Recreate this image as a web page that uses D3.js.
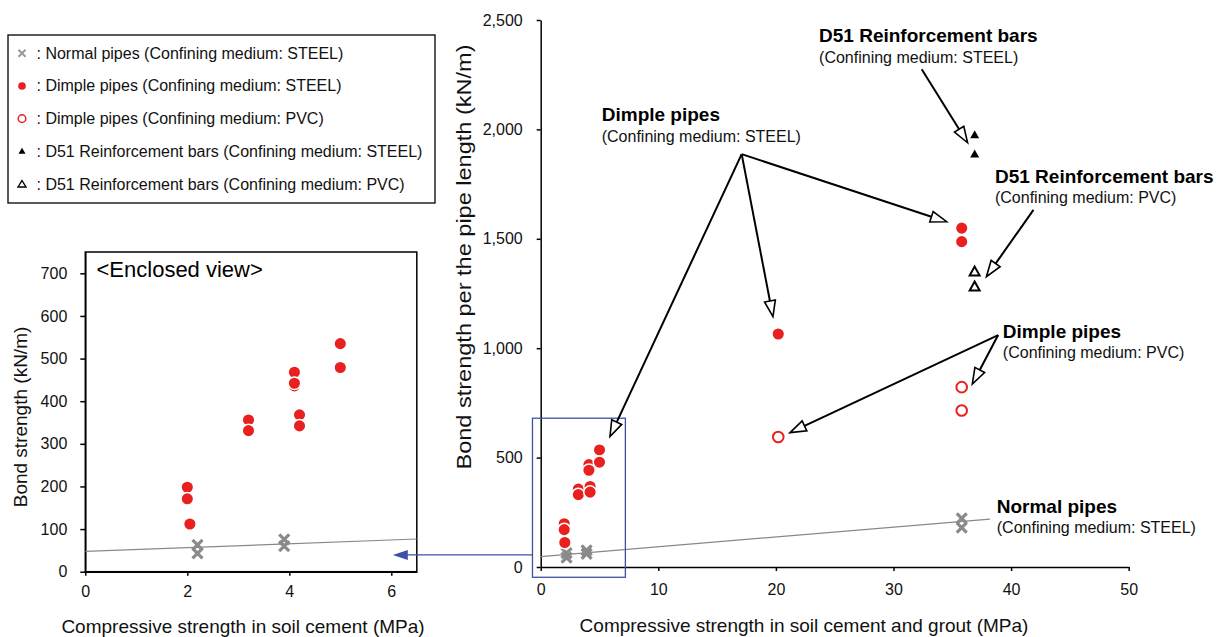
<!DOCTYPE html>
<html><head><meta charset="utf-8">
<script src="https://cdn.jsdelivr.net/npm/d3@7"></script>
<style>
body{margin:0;background:#fff;}
svg{display:block;font-family:"Liberation Sans",Arial,sans-serif;}
</style></head>
<body><svg id="c" width="1222" height="637"></svg>
<script>
// ---------- data ----------
const normalPipes = [[2.2,43],[2.2,63],[3.9,60],[3.9,76],[35.8,180],[35.8,222]];
const dimpleSteel = [[2.0,198],[2.0,171],[2.05,112],[3.2,356],[3.2,331],[4.1,468],[4.1,436],[4.1,442],[4.2,368],[4.2,342],[5.0,535],[5.0,479],[20.2,1065],[35.8,1549],[35.8,1487]];
const dimplePVC = [[20.2,594],[35.8,822],[35.8,715]];
const d51Steel = [[36.9,1975],[36.9,1888]];
const d51PVC = [[36.9,1350],[36.9,1282]];
const trendMain = [[0,47.5],[38.2,219]];
const trendInset = [[0,47.5],[6.5,76.7]];
const mainXTicks = [0,10,20,30,40,50];
const mainYTicks = [0,500,1000,1500,2000,2500];
const insetXTicks = [0,2,4,6];
const insetYTicks = [0,100,200,300,400,500,600,700];
const legendLabels = [
  ": Normal pipes (Confining medium: STEEL)",
  ": Dimple pipes (Confining medium: STEEL)",
  ": Dimple pipes (Confining medium: PVC)",
  ": D51 Reinforcement bars (Confining medium: STEEL)",
  ": D51 Reinforcement bars (Confining medium: PVC)"
];
const legendKinds = ["x","dot","ring","tri","otri"];
// annotations in main-chart data units
const annotations = [
  {title:"Dimple pipes", sub:"(Confining medium: STEEL)", at:[5.19,2038], from:[17.09,1887], to:[[34.52,1578],[19.75,1144],[5.89,596]]},
  {title:"D51 Reinforcement bars", sub:"(Confining medium: STEEL)", at:[23.67,2399], from:[32.4,2275], to:[[36.3,1939]]},
  {title:"D51 Reinforcement bars", sub:"(Confining medium: PVC)", at:[38.63,1757], from:[41.9,1632], to:[[37.9,1327]]},
  {title:"Dimple pipes", sub:"(Confining medium: PVC)", at:[39.3,1047], from:[38.9,1060], to:[[36.7,836],[21.2,614]]},
  {title:"Normal pipes", sub:"(Confining medium: STEEL)", at:[38.78,247], from:null, to:[]}
];
const zoomBox = {x0:-0.7, x1:7.2, y0:-47, y1:680};
const zoomLink = {y:55, insetX:6.03};

// ---------- setup ----------
const RED = "#e8201f", GREY = "#8a8a8a", BLUE = "#3d51a5";
const svg = d3.select("#c");
const xM = d3.scaleLinear().domain([0,50]).range([540.7,1128.7]);
const yM = d3.scaleLinear().domain([0,2500]).range([567,20]);
const xI = d3.scaleLinear().domain([0,6.5]).range([85.3,416.8]);
const yI = d3.scaleLinear().domain([0,750]).range([571.7,252]);

function drawMarks(g, xs, ys, scale){
  const s = scale || 1;
  g.selectAll(null).data(normalPipes).join("path")
    .attr("d", d => { const x=xs(d[0]), y=ys(d[1]), r=5*s; return `M${x-r},${y-r}L${x+r},${y+r}M${x-r},${y+r}L${x+r},${y-r}`; })
    .attr("stroke", GREY).attr("stroke-width", 3.2).attr("fill","none");
  g.selectAll(null).data(dimplePVC).join("circle")
    .attr("cx", d=>xs(d[0])).attr("cy", d=>ys(d[1])).attr("r", 5.3)
    .attr("fill","#fff").attr("stroke",RED).attr("stroke-width",2);
  g.selectAll(null).data(dimpleSteel).join("circle")
    .attr("cx", d=>xs(d[0])).attr("cy", d=>ys(d[1])).attr("r", 6.3)
    .attr("fill",RED).attr("stroke","#fff").attr("stroke-width",1.5);
  g.selectAll(null).data(d51Steel).join("path")
    .attr("d", d=>{const x=xs(d[0]), y=ys(d[1]); return `M${x},${y-4.5}L${x+4.5},${y+3.5}L${x-4.5},${y+3.5}Z`;})
    .attr("fill","#000");
  g.selectAll(null).data(d51PVC).join("path")
    .attr("d", d=>{const x=xs(d[0]), y=ys(d[1]); return `M${x},${y-5}L${x+5},${y+4}L${x-5},${y+4}Z`;})
    .attr("fill","#fff").attr("stroke","#000").attr("stroke-width",2).attr("stroke-linejoin","miter");
}

// ---------- main chart ----------
const gM = svg.append("g");
const axX = gM.append("g").attr("transform",`translate(0,${yM(0)})`)
  .call(d3.axisBottom(xM).tickValues(mainXTicks).tickSize(4).tickSizeOuter(0).tickPadding(12.6).tickFormat(d3.format("d")));
const axY = gM.append("g").attr("transform",`translate(${xM(0)},0)`)
  .call(d3.axisLeft(yM).tickValues(mainYTicks).tickSize(4).tickSizeOuter(0).tickPadding(14).tickFormat(d3.format(",")));
[axX,axY].forEach(a=>{a.selectAll("text").attr("font-size",16).attr("fill","#111").attr("font-family","Liberation Sans, Arial, sans-serif");
  a.selectAll("line,path").attr("stroke","#000").attr("stroke-width",1.5);});

gM.append("text").attr("x",804).attr("y",632).attr("text-anchor","middle").attr("font-size",19).attr("fill","#111")
  .text("Compressive strength in soil cement and grout (MPa)");
gM.append("text").attr("transform","translate(471,257) rotate(-90)").attr("text-anchor","middle").attr("font-size",19.5).attr("fill","#111")
  .attr("textLength",425).attr("lengthAdjust","spacingAndGlyphs")
  .text("Bond strength per the pipe length (kN/m)");

gM.append("path").attr("d", d3.line().x(d=>xM(d[0])).y(d=>yM(d[1]))(trendMain))
  .attr("stroke","#888").attr("stroke-width",1.2).attr("fill","none");
drawMarks(gM, xM, yM);

// zoom box
gM.append("rect").attr("x",xM(zoomBox.x0)).attr("y",yM(zoomBox.y1))
  .attr("width",xM(zoomBox.x1)-xM(zoomBox.x0)).attr("height",yM(zoomBox.y0)-yM(zoomBox.y1))
  .attr("fill","none").attr("stroke",BLUE).attr("stroke-width",1.3);

// annotations
function arrow(g, x1,y1,x2,y2){
  const L=16, hw=5.5, dx=x2-x1, dy=y2-y1, len=Math.hypot(dx,dy), ux=dx/len, uy=dy/len;
  const bx=x2-ux*L, by=y2-uy*L;
  g.append("line").attr("x1",x1).attr("y1",y1).attr("x2",bx).attr("y2",by).attr("stroke","#000").attr("stroke-width",2);
  g.append("path").attr("d",`M${x2},${y2}L${bx-uy*hw},${by+ux*hw}L${bx+uy*hw},${by-ux*hw}Z`)
    .attr("fill","#fff").attr("stroke","#000").attr("stroke-width",1.6).attr("stroke-linejoin","miter");
}
const gA = svg.append("g");
annotations.forEach(a=>{
  const x=xM(a.at[0]), y=yM(a.at[1]);
  gA.append("text").attr("x",x).attr("y",y).attr("font-size",19).attr("font-weight","bold").attr("fill","#000").text(a.title);
  gA.append("text").attr("x",x).attr("y",y+20.5).attr("font-size",16).attr("fill","#111").text(a.sub);
  if(a.from) a.to.forEach(t=>arrow(gA, xM(a.from[0]), yM(a.from[1]), xM(t[0]), yM(t[1])));
});

// ---------- inset ----------
const gI = svg.append("g");
svg.append("clipPath").attr("id","ic").append("rect")
  .attr("x",xI(0)).attr("y",yI(750)).attr("width",xI(6.5)-xI(0)).attr("height",yI(0)-yI(750));
const iaX = gI.append("g").attr("transform",`translate(0,${yI(0)})`)
  .call(d3.axisBottom(xI).tickValues(insetXTicks).tickSize(4).tickSizeOuter(0).tickPadding(10).tickFormat(d3.format("d")));
const iaY = gI.append("g").attr("transform",`translate(${xI(0)},0)`)
  .call(d3.axisLeft(yI).tickValues(insetYTicks).tickSize(5).tickSizeOuter(0).tickPadding(13).tickFormat(d3.format("d")));
[iaX,iaY].forEach(a=>{a.selectAll("text").attr("font-size",16).attr("fill","#111").attr("font-family","Liberation Sans, Arial, sans-serif");
  a.selectAll("line,path").attr("stroke","#000").attr("stroke-width",1.5);});
gI.append("rect").attr("x",xI(0)).attr("y",yI(750)).attr("width",xI(6.5)-xI(0)).attr("height",yI(0)-yI(750))
  .attr("fill","none").attr("stroke","#000").attr("stroke-width",1.5);
const gIc = gI.append("g").attr("clip-path","url(#ic)");
gIc.append("path").attr("d", d3.line().x(d=>xI(d[0])).y(d=>yI(d[1]))(trendInset))
  .attr("stroke","#888").attr("stroke-width",1.2).attr("fill","none");
drawMarks(gIc, xI, yI);
gI.append("text").attr("x",96.5).attr("y",277).attr("font-size",22).attr("fill","#000").text("<Enclosed view>");
gI.append("text").attr("x",243).attr("y",633).attr("text-anchor","middle").attr("font-size",19).attr("fill","#111")
  .text("Compressive strength in soil cement (MPa)");
gI.append("text").attr("transform","translate(27,417) rotate(-90)").attr("text-anchor","middle").attr("font-size",19).attr("fill","#111")
  .text("Bond strength (kN/m)");

// blue link arrow
const ly = yM(zoomLink.y), tipX = xI(zoomLink.insetX);
svg.append("line").attr("x1",xM(zoomBox.x0)).attr("y1",ly).attr("x2",tipX+14).attr("y2",ly).attr("stroke",BLUE).attr("stroke-width",1.3);
svg.append("path").attr("d",`M${tipX},${ly}L${tipX+15},${ly-5}L${tipX+15},${ly+5}Z`).attr("fill",BLUE);

// ---------- legend ----------
const gL = svg.append("g");
gL.append("rect").attr("x",8).attr("y",35).attr("width",427).attr("height",168).attr("fill","#fff").attr("stroke","#000").attr("stroke-width",1.3);
const rowY = d3.scalePoint().domain(d3.range(legendLabels.length)).range([53.3,184]);
legendLabels.forEach((t,i)=>{
  const y=rowY(i), x=22, k=legendKinds[i];
  if(k==="x") gL.append("path").attr("d",`M${x-3.5},${y-3.5}L${x+3.5},${y+3.5}M${x-3.5},${y+3.5}L${x+3.5},${y-3.5}`).attr("stroke","#999").attr("stroke-width",2);
  if(k==="dot") gL.append("circle").attr("cx",x).attr("cy",y).attr("r",3.8).attr("fill",RED);
  if(k==="ring") gL.append("circle").attr("cx",x).attr("cy",y).attr("r",3.8).attr("fill","#fff").attr("stroke",RED).attr("stroke-width",1.5);
  if(k==="tri") gL.append("path").attr("d",`M${x},${y-3.5}L${x+3.5},${y+2.5}L${x-3.5},${y+2.5}Z`).attr("fill","#000");
  if(k==="otri") gL.append("path").attr("d",`M${x},${y-3.5}L${x+4},${y+3}L${x-4},${y+3}Z`).attr("fill","#fff").attr("stroke","#000").attr("stroke-width",1.4);
  gL.append("text").attr("x",36.5).attr("y",y+5.5).attr("font-size",16).attr("fill","#111").text(t);
});
</script></body></html>
